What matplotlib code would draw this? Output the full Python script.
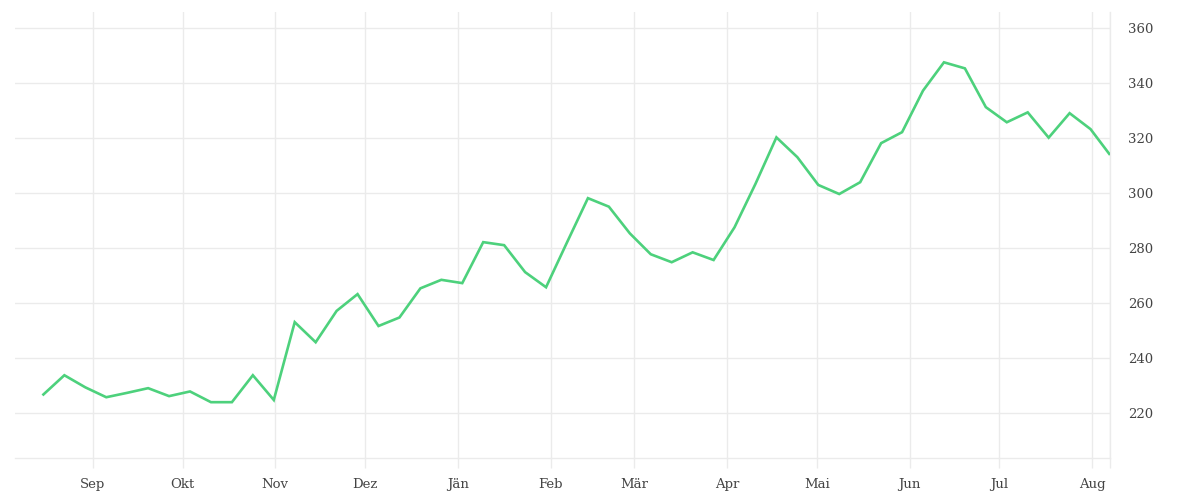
import datetime
import matplotlib
matplotlib.use("Agg")
import matplotlib.pyplot as plt
import matplotlib.dates as mdates

# weekly values
values = [226.7, 233.7, 229.3, 225.7, 227.3, 229.0, 226.1, 227.8, 223.9, 223.9,
          233.7, 224.7, 253.0, 245.7, 257.1, 263.2, 251.6, 254.7, 265.3, 268.4,
          267.2, 282.1, 281.0, 271.2, 265.7, 282.0, 298.1, 295.0, 285.3, 277.7,
          274.8, 278.4, 275.6, 287.5, 303.3, 320.2, 313.0, 302.9, 299.6, 303.9,
          318.1, 322.1, 337.2, 347.5, 345.3, 331.2, 325.7, 329.3, 320.1, 329.0,
          323.2, 314.2]

start = datetime.datetime(2018, 8, 15, 12)
dates = [start + datetime.timedelta(days=7 * i) for i in range(len(values) - 1)]
dates.append(datetime.datetime(2019, 8, 6, 18))

month_labels = ["Sep", "Okt", "Nov", "Dez", "Jän", "Feb", "Mär",
                "Apr", "Mai", "Jun", "Jul", "Aug"]
month_starts = [datetime.date(2018, 9, 1), datetime.date(2018, 10, 1),
                datetime.date(2018, 11, 1), datetime.date(2018, 12, 1),
                datetime.date(2019, 1, 1), datetime.date(2019, 2, 1),
                datetime.date(2019, 3, 1), datetime.date(2019, 4, 1),
                datetime.date(2019, 5, 1), datetime.date(2019, 6, 1),
                datetime.date(2019, 7, 1), datetime.date(2019, 8, 1)]
y_ticks = [220, 240, 260, 280, 300, 320, 340, 360]

grid_col = "#ebebeb"
text_col = "#444444"
line_col = "#4dd17c"

fig = plt.figure(figsize=(12, 5), dpi=100)
ax = fig.add_axes([15 / 1200, 42 / 500, 1095 / 1200, 446 / 500])

ax.plot(dates, values, color=line_col, linewidth=1.9, solid_joinstyle="miter", zorder=3)

xmin = datetime.datetime(2018, 8, 6)
xmax = datetime.datetime(2019, 8, 7)
ax.set_xlim(xmin, xmax)
ax.set_ylim(203.6, 365.8)

ticks = [mdates.date2num(d) for d in month_starts] + [mdates.date2num(xmax)]
ax.set_xticks(ticks)
ax.set_xticklabels(month_labels + [""])
ax.set_yticks(y_ticks)
ax.yaxis.tick_right()

ax.grid(True, color=grid_col, linewidth=1)
ax.set_axisbelow(True)

for side in ["top", "left"]:
    ax.spines[side].set_visible(False)
for side in ["bottom", "right"]:
    ax.spines[side].set_color(grid_col)
    ax.spines[side].set_linewidth(1)

ax.tick_params(axis="x", length=7.2, width=1, color=grid_col, pad=7,
               labelsize=9.5, labelcolor=text_col)
ax.tick_params(axis="y", length=0, pad=13, labelsize=9.5, labelcolor=text_col)
for lab in ax.get_xticklabels() + ax.get_yticklabels():
    lab.set_family("DejaVu Serif")

fig.savefig("out.png", dpi=100)
